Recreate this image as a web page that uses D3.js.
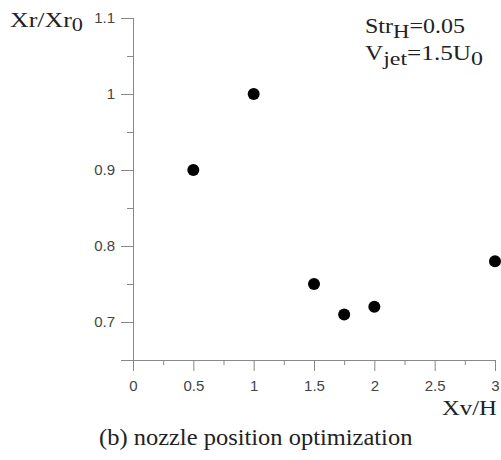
<!DOCTYPE html>
<html>
<head>
<meta charset="utf-8">
<script src="https://cdnjs.cloudflare.com/ajax/libs/d3/7.8.5/d3.min.js"></script>
<style>
  body { margin: 0; background: #fff; }
</style>
</head>
<body>
<div id="chart"></div>
<script>
// Xv/H vs Xr/Xr0
var xv = [0.5, 1, 1.5, 1.75, 2, 3];
var xr = [0.9, 1, 0.75, 0.71, 0.72, 0.78];
var xTicks = [0, 0.5, 1, 1.5, 2, 2.5, 3];
var yTicks = [0.7, 0.8, 0.9, 1, 1.1];

var width = 501, height = 460;
var serif = "'Liberation Serif', 'Times New Roman', Times, serif";
var sans = "'Liberation Sans', Arial, Helvetica, sans-serif";

var svg = d3.select("#chart").append("svg")
    .attr("width", width)
    .attr("height", height);

var x = d3.scaleLinear().domain([0, 3]).range([133, 495]);
var y = d3.scaleLinear().domain([0.65, 1.1]).range([360, 18]);

// minor ticks first
var xMinor = d3.range(0, 3.01, 0.25).filter(function(d) { return xTicks.indexOf(d) < 0; });
var yMinor = d3.range(0.65, 1.1, 0.05).map(function(d) { return Math.round(d * 100) / 100; })
    .filter(function(d) { return yTicks.indexOf(d) < 0; });

svg.append("g")
    .attr("transform", "translate(0,360)")
    .call(d3.axisBottom(x).tickValues(xMinor).tickSize(5).tickFormat(""))
    .call(function(g) { g.select(".domain").remove(); })
    .selectAll("line").attr("stroke", "#888");

svg.append("g")
    .attr("transform", "translate(133,0)")
    .call(d3.axisLeft(y).tickValues(yMinor).tickSize(6).tickFormat(""))
    .call(function(g) { g.select(".domain").remove(); })
    .selectAll("line").attr("stroke", "#888");

var xAxis = svg.append("g")
    .attr("transform", "translate(0,360)")
    .call(d3.axisBottom(x).tickValues(xTicks).tickSize(11).tickSizeOuter(0).tickPadding(9)
        .tickFormat(function(d) { return d; }));
xAxis.select(".domain").attr("stroke", "#888").attr("d", "M121,0.5H495");
xAxis.selectAll("line").attr("stroke", "#888");

var yAxis = svg.append("g")
    .attr("transform", "translate(133,0)")
    .call(d3.axisLeft(y).tickValues(yTicks).tickSize(12).tickSizeOuter(0).tickPadding(6)
        .tickFormat(function(d) { return d; }));
yAxis.select(".domain").attr("stroke", "#888").attr("d", "M0.5,18V371");
yAxis.selectAll("line").attr("stroke", "#888");

svg.selectAll(".tick text")
    .attr("font-family", sans)
    .attr("font-size", 15)
    .attr("fill", "#444");

svg.selectAll("circle.pt")
    .data(xv)
    .enter().append("circle")
    .attr("class", "pt")
    .attr("cx", function(d) { return x(d); })
    .attr("cy", function(d, i) { return y(xr[i]); })
    .attr("r", 6)
    .attr("fill", "#000");

// labels
function label(px, py, size) {
  return svg.append("text")
      .attr("x", px).attr("y", py)
      .attr("font-family", serif)
      .attr("font-size", size)
      .attr("fill", "#222");
}

// stretch a label horizontally so it spans w pixels from its left edge
function fit(t, w) {
  var b = t.node().getBBox();
  var s = w / b.width;
  t.attr("transform", "translate(" + b.x + ",0) scale(" + s + ",1) translate(" + (-b.x) + ",0)");
}

var yl = label(10, 27, 22);
yl.append("tspan").text("Xr/Xr");
yl.append("tspan").attr("dy", 4).attr("font-size", 19).text("0");
fit(yl, 73);

var s1 = label(365, 33, 20);
s1.append("tspan").text("Str");
s1.append("tspan").attr("dy", 5).attr("font-size", 19).text("H");
s1.append("tspan").attr("dy", -5).text("=0.05");
fit(s1, 100);

var s2 = label(365, 60, 20);
s2.append("tspan").text("V");
s2.append("tspan").attr("dy", 5).attr("font-size", 19).text("jet");
s2.append("tspan").attr("dy", -5).text("=1.5U");
s2.append("tspan").attr("dy", 5).attr("font-size", 19).text("0");
fit(s2, 118);

var xl = label(442, 415, 22).text("Xv/H");
fit(xl, 55);

var cap = label(99, 445, 23).text("(b) nozzle position optimization");
fit(cap, 314);
</script>
</body>
</html>
